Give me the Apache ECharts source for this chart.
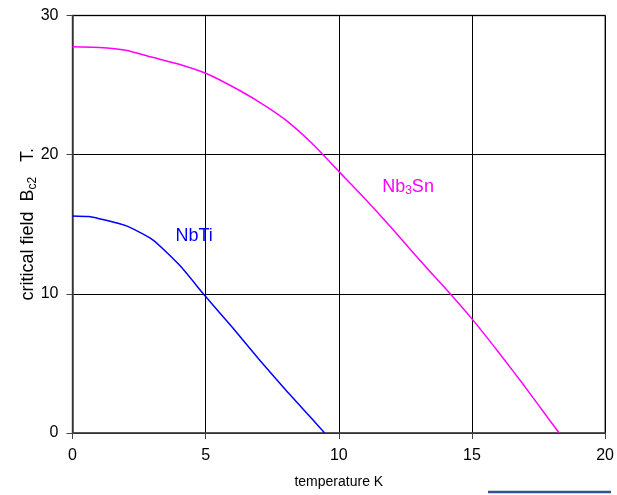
<!DOCTYPE html>
<html>
<head>
<meta charset="utf-8">
<script src="https://cdn.jsdelivr.net/npm/echarts@6/dist/echarts.min.js"></script>
<style>html,body{margin:0;padding:0;background:#fff}#c{width:617px;height:495px}</style>
</head>
<body>
<div id="c"></div>
<script>
var nb3snT = [0, 1, 2, 3, 4, 5, 6, 7, 8, 9, 10, 11, 12, 13, 14, 15, 16, 17, 18, 18.28];
var nb3snB = [27.75, 27.7, 27.5, 27.0, 26.5, 25.85, 24.9, 23.8, 22.5, 20.8, 18.8, 16.8, 14.7, 12.5, 10.4, 8.2, 5.8, 3.3, 0.7, 0];
var nbtiT = [0, 0.6, 1, 2, 3, 4, 5, 6, 7, 8, 9, 9.47];
var nbtiB = [15.6, 15.55, 15.4, 14.9, 13.9, 12.1, 9.8, 7.6, 5.3, 3.1, 1.0, 0];
var xTicks = [0, 5, 10, 15, 20];
var yTicks = [0, 10, 20, 30];

function pairs(xs, ys) { return xs.map(function (x, i) { return [x, ys[i]]; }); }

var chart = echarts.init(document.getElementById('c'), null, { renderer: 'canvas' });
var font = 'Liberation Sans, Arial, sans-serif';
chart.setOption({
  animation: false,
  grid: { left: 72.5, right: 9, top: 15.5, bottom: 62, show: true, borderColor: '#666', borderWidth: 1.5, containLabel: false },
  xAxis: {
    type: 'value', min: xTicks[0], max: xTicks[xTicks.length - 1], interval: 5,
    name: 'temperature K', nameLocation: 'middle', nameGap: 42,
    nameTextStyle: { fontFamily: font, fontSize: 14, color: '#000' },
    axisLine: { show: true, lineStyle: { color: '#444', width: 1.5 } },
    axisTick: { show: true, length: 6, lineStyle: { color: '#444' } },
    axisLabel: { fontFamily: font, fontSize: 16, color: '#000', margin: 15 },
    splitLine: { show: true, lineStyle: { color: '#000', width: 1 } }
  },
  yAxis: {
    type: 'value', min: yTicks[0], max: yTicks[yTicks.length - 1], interval: 10,
    name: '{n|critical field  B}{s|c2}{n|   T.}', nameLocation: 'middle', nameGap: 34, nameMoveOverlap: false,
    nameTextStyle: { fontFamily: font, fontSize: 18, color: '#000',
      rich: { n: { fontFamily: font, fontSize: 18, color: '#000' }, s: { fontFamily: font, fontSize: 12, color: '#000', verticalAlign: 'bottom', padding: [9, 0, 0, 0] } } },
    axisLine: { show: true, lineStyle: { color: '#444', width: 1.5 } },
    axisTick: { show: true, length: 6, lineStyle: { color: '#444' } },
    axisLabel: { fontFamily: font, fontSize: 16, color: '#000', margin: 14 },
    splitLine: { show: true, lineStyle: { color: '#000', width: 1 } }
  },
  series: [
    {
      name: 'Nb3Sn', type: 'line', data: pairs(nb3snT, nb3snB), showSymbol: false, smooth: 0.2,
      lineStyle: { color: '#ff00ff', width: 1.5 }, itemStyle: { color: '#ff00ff' },
      markPoint: {
        symbol: 'circle', symbolSize: 0,
        data: [{ coord: [12.6, 17.7], value: 'Nb3Sn' }],
        label: { show: true, position: 'inside', formatter: '{a|Nb}{b|3}{a|Sn}',
          rich: { a: { fontFamily: font, fontSize: 18, color: '#ff00ff' }, b: { fontFamily: font, fontSize: 12, color: '#ff00ff', padding: [9, 0, 0, 0] } } }
      }
    },
    {
      name: 'NbTi', type: 'line', data: pairs(nbtiT, nbtiB), showSymbol: false, smooth: 0.2,
      lineStyle: { color: '#0000ff', width: 1.5 }, itemStyle: { color: '#0000ff' },
      markPoint: {
        symbol: 'circle', symbolSize: 0,
        data: [{ coord: [4.57, 14.15], value: 'NbTi' }],
        label: { show: true, position: 'inside', formatter: 'NbTi', fontFamily: font, fontSize: 18, color: '#0000ff' }
      }
    }
  ],
  graphic: [
    { type: 'line', shape: { x1: 488, y1: 492, x2: 611, y2: 492 }, style: { stroke: '#2f5496', lineWidth: 2.5 } }
  ]
});
</script>
</body>
</html>
